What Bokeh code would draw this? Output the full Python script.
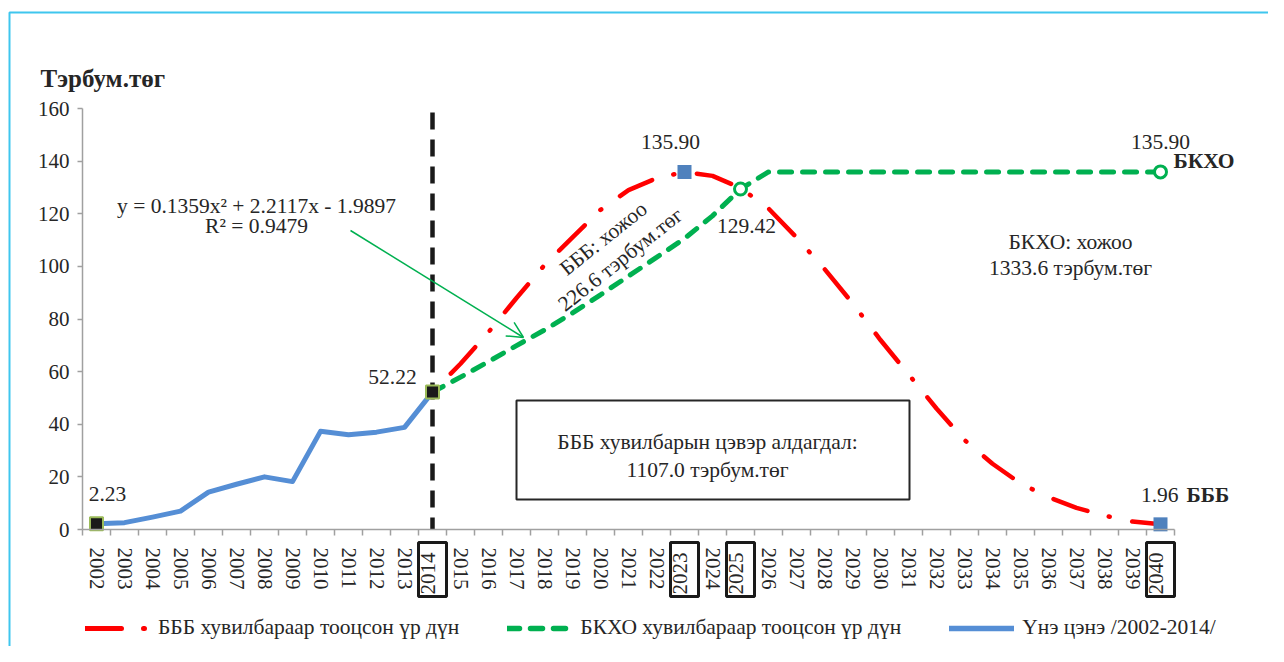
import math
from bokeh.plotting import figure
from bokeh.models import (Range1d, FixedTicker, Label, Arrow, OpenHead,
                          BoxAnnotation, Legend, LegendItem)
from bokeh.embed import file_html
from bokeh.resources import INLINE

# ---------------- data ----------------
years_actual = [2002, 2003, 2004, 2005, 2006, 2007, 2008, 2009, 2010, 2011, 2012, 2013, 2014]
actual_vals = [2.23, 2.6, 4.7, 7.0, 14.2, 17.2, 20.0, 18.2, 37.3, 36.0, 37.0, 38.8, 52.22]

years_fc = [2014, 2015, 2016, 2017, 2018, 2019, 2020, 2021, 2022, 2023, 2024, 2025, 2026,
            2027, 2028, 2029, 2030, 2031, 2032, 2033, 2034, 2035, 2036, 2037, 2038, 2039, 2040]
bbb_vals = [52.22, 63.0, 75.0, 88.0, 100.5, 111.0, 121.5, 129.0, 133.5, 135.9, 134.4, 129.8, 122.0,
            111.0, 99.0, 86.0, 72.0, 59.0, 46.0, 34.0, 25.0, 17.5, 12.3, 8.2, 5.3, 3.0, 1.96]
bkho_vals = [52.22, 57.9, 63.8, 69.9, 75.8, 82.3, 89.2, 96.3, 103.4, 110.6, 119.2, 129.42, 135.9,
             135.9, 135.9, 135.9, 135.9, 135.9, 135.9, 135.9, 135.9, 135.9, 135.9, 135.9, 135.9, 135.9, 135.9]

black_sq_years = [2002, 2014]
black_sq_vals = [2.23, 52.22]
blue_sq_years = [2023, 2040]
blue_sq_vals = [135.9, 1.96]
green_c_years = [2025, 2040]
green_c_vals = [129.42, 135.9]

tick_years = list(range(2002, 2041))
boxed_years = [2014, 2023, 2025, 2040]
y_ticks = [0, 20, 40, 60, 80, 100, 120, 140, 160]

legend_labels = ["БББ хувилбараар тооцсон үр дүн", "БКХО хувилбараар тооцсон үр дүн", "Үнэ цэнэ /2002-2014/"]

# ---------------- layout helpers (screen px -> data) ----------------
W, H = 1268, 646
X_LEFT_PX, YEAR_PX = 82.0, 28.0       # px of category-band left edge, px per year
Y0_PX, Y_PX = 529.0, 421.0 / 160.0    # px of y=0, px per unit


def px2x(px):
    return 2001.5 + (px - X_LEFT_PX) / YEAR_PX


def py2y(py):
    return (Y0_PX - py) / Y_PX


FONT = "Liberation Serif"
TXT = "#262626"
RED = "#FF0000"
GREEN = "#00B050"
BLUE = "#558ED5"
FS = "21.5px"
TICK_FS = "21px"

RED_DASH = "36 22 1 23"
GREEN_DASH = "12 11"
NAN = float("nan")

p = figure(width=W, height=H, output_backend="svg", toolbar_location=None,
           x_range=Range1d(px2x(0), px2x(W)), y_range=Range1d(py2y(H), py2y(0)),
           min_border=0)
p.outline_line_color = None
p.xgrid.visible = False
p.ygrid.visible = False
p.background_fill_color = "white"
p.border_fill_color = "white"

# light-blue frame of the picture
p.line([px2x(9), px2x(9), px2x(W + 5)], [py2y(H + 5), py2y(12), py2y(12)],
       line_color="#3FC6EE", line_width=2)

# axes
xa = p.xaxis[0]
xa.fixed_location = 0
xa.bounds = (2001.5, 2040.5)
xa.ticker = FixedTicker(ticks=tick_years, minor_ticks=[y - 0.5 for y in tick_years] + [2040.5])
xa.major_tick_out = 0
xa.major_tick_in = 0
xa.minor_tick_out = 6
xa.minor_tick_in = 0
xa.minor_tick_line_color = "#A0A0A0"
xa.minor_tick_line_width = 1.5
xa.axis_line_color = "#A0A0A0"
xa.axis_line_width = 1.5
xa.major_label_orientation = "vertical"
xa.major_label_standoff = 12
xa.major_label_text_font = FONT
xa.major_label_text_font_size = TICK_FS
xa.major_label_text_color = TXT
xa.major_label_overrides = {y: "" for y in boxed_years}

ya = p.yaxis[0]
ya.fixed_location = 2001.5
ya.bounds = (0, 160)
ya.ticker = FixedTicker(ticks=y_ticks)
ya.major_tick_out = 5
ya.major_tick_in = 0
ya.minor_tick_line_color = None
ya.major_tick_line_color = "#A0A0A0"
ya.major_tick_line_width = 1.5
ya.axis_line_color = "#A0A0A0"
ya.axis_line_width = 1.5
ya.major_label_standoff = 8
ya.major_label_text_font = FONT
ya.major_label_text_font_size = TICK_FS
ya.major_label_text_color = TXT

# vertical dashed line at 2014
p.line([2014, 2014], [py2y(112), 0], line_color="#1A1A1A", line_width=4.5, line_dash="17 10")

# lines
p.line(years_fc, bbb_vals, line_color=RED, line_width=4.5, line_dash=RED_DASH,
       line_dash_offset=56, line_cap="round")
p.line(years_fc, bkho_vals, line_color=GREEN, line_width=5, line_dash=GREEN_DASH,
       line_cap="round")
p.line(years_actual, actual_vals, line_color=BLUE, line_width=5, line_join="round")

# legend proxies (same styles, dash pattern starting with the dash; NaN -> nothing drawn in plot)
lg_red = p.line([NAN], [NAN], line_color=RED, line_width=5, line_dash=RED_DASH, line_cap="round")
lg_green = p.line([NAN], [NAN], line_color=GREEN, line_width=5.5, line_dash=GREEN_DASH, line_cap="round")
lg_blue = p.line([NAN], [NAN], line_color=BLUE, line_width=5.5, line_cap="round")

# markers
p.scatter(black_sq_years, black_sq_vals, marker="square", size=13, fill_color="#1A1A1A",
          line_color="#9BBB59", line_width=2)
p.scatter(blue_sq_years, blue_sq_vals, marker="square", size=14, fill_color="#4F81BD",
          line_color=None)
p.scatter(green_c_years, green_c_vals, marker="circle", size=12, fill_color="white",
          line_color=GREEN, line_width=3)


def lab(x, y, text, xo=0, yo=0, align="center", bold=False, size=FS, angle=0, **kw):
    p.add_layout(Label(x=x, y=y, text=text, x_offset=xo, y_offset=yo, text_align=align,
                       text_baseline="middle", text_font=FONT, text_font_size=size,
                       text_color=TXT, text_font_style="bold" if bold else "normal",
                       angle=angle, **kw))


# boxed tick labels
for yr in boxed_years:
    lab(yr, 0, str(yr), yo=-13, align="right", angle=math.pi / 2, size=TICK_FS,
        border_line_color="#1A1A1A", border_line_width=3, padding=(2, 10, 2, 12))

# data labels
lab(black_sq_years[0], black_sq_vals[0], "2.23", xo=11, yo=30)
lab(black_sq_years[1], black_sq_vals[1], "52.22", xo=-40, yo=15)
lab(blue_sq_years[0], blue_sq_vals[0], "135.90", xo=-14, yo=30)
lab(green_c_years[0], green_c_vals[0], "129.42", xo=6, yo=-37)
lab(green_c_years[1], green_c_vals[1], "135.90", xo=0, yo=30)
lab(green_c_years[1], green_c_vals[1], "БКХО", xo=13, yo=11, align="left", bold=True)
lab(blue_sq_years[1], blue_sq_vals[1], "1.96", xo=18, yo=29, align="right")
lab(blue_sq_years[1], blue_sq_vals[1], "БББ", xo=26, yo=29, align="left", bold=True)

# axis title
lab(px2x(40), py2y(78), "Тэрбум.төг", align="left", bold=True, size="25px")

# trendline equation + arrow
lab(px2x(256), py2y(205), "y = 0.1359x² + 2.2117x - 1.9897")
lab(px2x(256), py2y(225), "R² = 0.9479")
p.add_layout(Arrow(end=OpenHead(size=16, line_color=GREEN, line_width=1.5),
                   x_start=px2x(350), y_start=py2y(230), x_end=px2x(523), y_end=py2y(337),
                   line_color=GREEN, line_width=1.5))

# rotated annotations
ang = math.radians(38.5)
lab(px2x(603), py2y(238), "БББ: хожоо", angle=ang)
lab(px2x(620), py2y(259), "226.6 тэрбум.төг", angle=ang)

lab(px2x(1070), py2y(241.7), "БКХО: хожоо")
lab(px2x(1070), py2y(267), "1333.6 тэрбум.төг")

# box
p.add_layout(BoxAnnotation(left=px2x(516), right=px2x(909), top=py2y(400), bottom=py2y(499),
                           fill_color="white", fill_alpha=1.0,
                           line_color="#262626", line_alpha=1.0, line_width=2))
lab(px2x(707), py2y(441.7), "БББ хувилбарын цэвэр алдагдал:")
lab(px2x(707), py2y(469), "1107.0 тэрбум.төг")

# legend
legend = Legend(items=[LegendItem(label=legend_labels[0], renderers=[lg_red]),
                       LegendItem(label=legend_labels[1], renderers=[lg_green]),
                       LegendItem(label=legend_labels[2], renderers=[lg_blue])],
                orientation="horizontal", location=(85, 6),
                glyph_width=65, glyph_height=20, label_standoff=8, spacing=48,
                padding=0, margin=0, border_line_color=None, background_fill_alpha=0,
                label_text_font=FONT, label_text_font_size=FS, label_text_color=TXT)
p.add_layout(legend, "center")

open("out.html", "w").write(file_html(p, INLINE))
